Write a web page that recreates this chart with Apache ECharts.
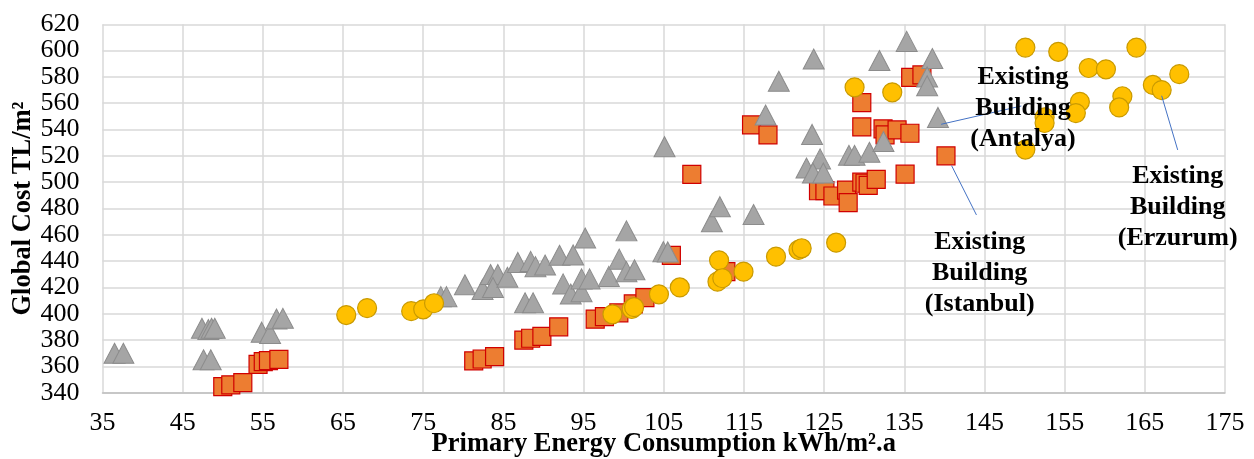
<!DOCTYPE html>
<html>
<head>
<meta charset="utf-8">
<script src="https://cdn.jsdelivr.net/npm/echarts@6/dist/echarts.min.js"></script>
<style>
  html, body { margin:0; padding:0; background:#fff; }
  #chart { width:1254px; height:459px; }
</style>
</head>
<body>
<div id="chart"></div>
<script>
// x = primary energy (kWh/m².a), y = global cost (TL/m²)
var istanbul = [
  [50.0,344.6],[51.0,346],[52.5,347.7],[54.4,361.6],[55.05,363.6],[55.7,364.4],[57.0,365.4],
  [81.3,364.2],[82.35,365.6],[83.9,367.4],[87.55,380],[88.4,381.4],[89.8,382.8],[91.9,390.1],
  [96.45,395.9],[97.6,397.8],[99.4,400.7],[101.2,407.5],[102.65,412.3],[105.95,444.4],[112.75,432],
  [108.5,506],[115.95,543.5],[118.0,535.9],
  [124.3,493.5],[125.1,493.6],[126.1,489.5],[127.8,494],[128.0,484.5],[129.7,500],[130.1,499.2],
  [130.5,497.6],[131.5,502.2],
  [129.7,560.4],[129.7,542],[132.35,540.5],[132.6,536],[134.1,539.7],[135.7,537.2],
  [135.8,579.6],[137.2,581.5],[135.1,506.1],[140.2,520]
];
var antalya = [
  [36.5,370],[37.6,370],[47.4,389],[48.2,388],[48.6,389],[49.0,389],[47.6,365],[48.5,365],
  [54.85,386],[55.9,385],[56.7,396],[57.5,396.5],
  [77.2,413],[77.9,413],[80.2,422],[82.4,418.5],[83.4,429.8],[84.3,429.8],[83.7,420],[85.5,427.7],
  [86.8,439],[88.4,439.8],[89.0,435.8],[90.2,437],[87.7,408.3],[88.7,408.3],
  [92.0,444.4],[93.7,444.7],[95.2,457.6],[92.45,422.7],[93.4,415],[94.75,416.8],[94.75,426.5],
  [95.75,426.5],[98.15,428.4],[100.35,463],[99.45,441.5],[100.35,432],[101.35,433.4],
  [105.1,527],[104.95,447.2],[105.5,447],[111.0,470],[112.0,481.4],[116.2,475.4],[117.7,551],
  [119.35,576.7],[123.7,593.6],
  [123.5,536.3],[122.8,510.8],[124.5,517.7],[123.6,507],[124.9,507],[128.1,520.4],[128.8,520.4],
  [130.65,522.7],[131.9,592.5],[135.3,607],[132.4,530.9],[138.5,594],[137.85,580],[137.85,573.3],
  [139.2,549.2]
];
var erzurum = [
  [65.4,399],[68.0,404.3],[73.5,402],[75.0,403.4],[76.35,408],
  [98.6,399.6],[101.0,403.6],[101.3,405],[104.4,414.8],[107.0,420],[111.9,440.6],[111.7,424.4],
  [112.3,427],[114.95,432],[119.0,443.4],[121.8,448.5],[122.2,449.8],[126.5,454],
  [128.8,572.1],[133.5,568.3],
  [150.1,602.3],[154.2,599.1],[158.0,586.8],[160.15,585.8],[163.95,602.3],[169.3,582.1],
  [166.0,573.9],[167.1,570],[162.2,565.3],[161.8,556.8],[156.9,561.1],[156.4,552.5],
  [152.5,549.3],[152.5,545],[150.1,524.8]
];
var xTicks = { min: 35, max: 175, step: 10 };
var yTicks = { min: 340, max: 620, step: 20 };

// annotations: text anchor and leader line, in data units
var noteNames = ['Existing\nBuilding\n(Antalya)', 'Existing\nBuilding\n(Istanbul)', 'Existing\nBuilding\n(Erzurum)'];
var notePos = [[149.8,556.3],[144.4,431],[169.1,481]];
var noteLines = [
  [[149.6,557.9],[139.6,544.0]],
  [[140.9,512.6],[144.0,475.1]],
  [[167.1,565.7],[169.1,524.5]]
];

var font = '"Liberation Serif", "Times New Roman", serif';
var chart = echarts.init(document.getElementById('chart'));

chart.setOption({
  animation: false,
  textStyle: { fontFamily: font },
  grid: { left: 102.5, right: 29, top: 24.3, bottom: 66.3, containLabel: false, outerBoundsMode: 'none' },
  xAxis: {
    type: 'value',
    min: xTicks.min, max: xTicks.max, interval: xTicks.step,
    name: 'Primary Energy Consumption kWh/m².a',
    nameLocation: 'middle', nameGap: 38, nameMoveOverlap: false,
    nameTextStyle: { fontFamily: font, fontSize: 26.5, fontWeight: 'bold', color: '#000' },
    axisLine: { show: true, lineStyle: { color: '#BFBFBF', width: 1.5 } },
    axisTick: { show: false },
    axisLabel: { fontFamily: font, fontSize: 26, color: '#000', margin: 17,
      showMinLabel: true, showMaxLabel: true, hideOverlap: false },
    splitLine: { show: true, lineStyle: { color: '#D9D9D9', width: 1.5 } }
  },
  yAxis: {
    type: 'value',
    min: yTicks.min, max: yTicks.max, interval: yTicks.step,
    name: 'Global Cost TL/m²',
    nameLocation: 'middle', nameGap: 66,
    nameTextStyle: { fontFamily: font, fontSize: 26.5, fontWeight: 'bold', color: '#000' },
    axisLine: { show: false },
    axisTick: { show: false },
    // labels drawn below as graphic text: the axis drops the neighbours
    // of min/max because they are packed so tight
    axisLabel: { show: false },
    splitLine: { show: true, lineStyle: { color: '#D9D9D9', width: 1.5 } }
  },
  series: [
    {
      name: 'Istanbul', type: 'scatter', data: istanbul,
      symbol: 'rect', symbolSize: 18,
      itemStyle: { color: '#ED7D31', borderColor: '#D00000', borderWidth: 1.2, opacity: 1 },
      z: 2
    },
    {
      name: 'Antalya', type: 'scatter', data: antalya,
      symbol: 'triangle', symbolSize: [21, 20],
      itemStyle: { color: '#A5A5A5', borderColor: '#8C8C8C', borderWidth: 1, opacity: 1 },
      z: 3
    },
    {
      name: 'Erzurum', type: 'scatter', data: erzurum,
      symbol: 'circle', symbolSize: 19,
      itemStyle: { color: '#FFC000', borderColor: '#C99A00', borderWidth: 1.2, opacity: 1 },
      z: 4
    },
    {
      name: 'notes', type: 'scatter', data: notePos.map(function (p, i) {
        return { value: p, name: noteNames[i] };
      }),
      symbolSize: 0, silent: true, z: 6,
      itemStyle: { opacity: 1 },
      label: {
        show: true, position: 'inside', formatter: '{b}',
        fontFamily: font, fontSize: 26, fontWeight: 'bold', color: '#000',
        textBorderWidth: 0, textShadowBlur: 0,
        lineHeight: 31, align: 'center', verticalAlign: 'middle'
      },
      markLine: {
        silent: true, symbol: 'none', animation: false,
        lineStyle: { color: '#4472C4', width: 1, type: 'solid', opacity: 1 },
        label: { show: false },
        data: noteLines.map(function (l) {
          return [{ coord: l[0] }, { coord: l[1] }];
        })
      }
    }
  ]
});

// y tick labels, placed through the axis scale
var yLabels = [];
var leftEdge = chart.convertToPixel({ xAxisIndex: 0 }, xTicks.min);
for (var v = yTicks.min; v <= yTicks.max; v += yTicks.step) {
  yLabels.push({
    type: 'text', silent: true,
    x: leftEdge - 23,
    y: chart.convertToPixel({ yAxisIndex: 0 }, v),
    style: {
      text: String(v), font: '26px ' + font, fill: '#000',
      align: 'right', verticalAlign: 'middle'
    }
  });
}
chart.setOption({ graphic: yLabels });
</script>
</body>
</html>
